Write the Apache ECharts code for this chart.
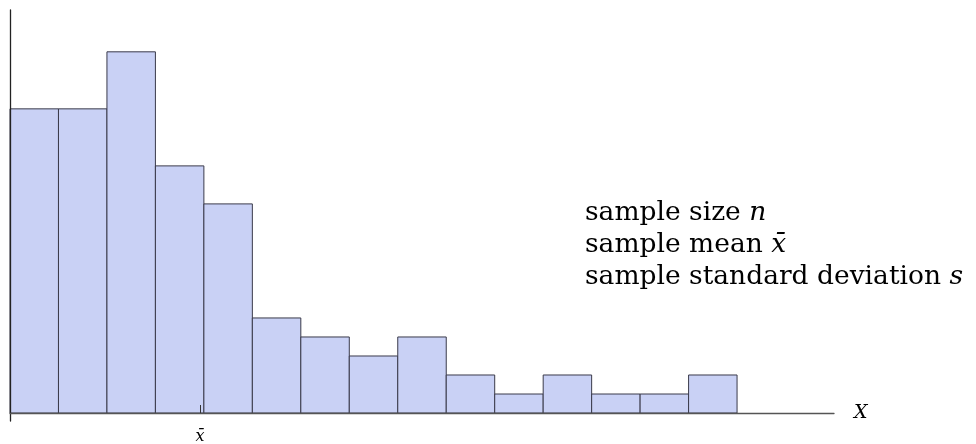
<!DOCTYPE html>
<html><head><meta charset="utf-8">
<script src="https://cdn.jsdelivr.net/npm/echarts@6/dist/echarts.min.js"></script>
<style>html,body{margin:0;padding:0;background:#fff}#c{width:976px;height:444px}</style>
</head><body><div id="c"></div>
<script>
// bin index (left edges) and counts
const binStarts = [0,1,2,3,4,5,6,7,8,9,10,11,12,13,14];
const counts = [16,16,19,13,11,5,4,3,4,2,1,2,1,1,2];
const meanX = 3.92;
const meanLabel = 'x\u0304';
const infoLines = [['sample size ', 'n'], ['sample mean ', 'x\u0304'], ['sample standard deviation ', 's']];

const chart = echarts.init(document.getElementById('c'), null, {renderer:'canvas'});
const data = binStarts.map((b,i)=>[b, b+1, counts[i]]);
chart.setOption({
  animation:false,
  grid:{left:10, right:142, top:10, bottom:23, containLabel:false, outerBoundsMode:'none'},
  xAxis:{type:'value', min:0, max:17, z:5,
    name:'X', nameLocation:'end', nameGap:20,
    nameTextStyle:{fontFamily:'DejaVu Serif', fontStyle:'italic', fontSize:19, color:'#000', verticalAlign:'middle', padding:[2,0,0,0]},
    axisLine:{onZero:true, lineStyle:{color:'#555', width:1.3}},
    axisTick:{show:true, inside:true, length:8, customValues:[meanX], lineStyle:{color:'#333', width:1}},
    axisLabel:{show:true, customValues:[meanX], formatter:()=>meanLabel, margin:8,
      fontFamily:'DejaVu Serif', fontStyle:'italic', fontSize:16, color:'#000'},
    splitLine:{show:false}},
  yAxis:{type:'value', min:-0.42, max:21.2, z:5,
    axisLine:{show:true, onZero:false, lineStyle:{color:'#222', width:1.3}},
    axisTick:{show:false}, axisLabel:{show:false}, splitLine:{show:false}},
  series:[{type:'custom', data:data, encode:{x:[0,1], y:2},
    renderItem:(params, api)=>{
      const p0 = api.coord([api.value(0), 0]);
      const p1 = api.coord([api.value(1), api.value(2)]);
      return {type:'rect', shape:{x:p0[0], y:p1[1], width:p1[0]-p0[0], height:p0[1]-p1[1]},
        style:{fill:'#c9d1f5', stroke:'#3a3a4a', lineWidth:1}};
    }, z:1}],
  graphic: infoLines.map((ln,i)=>({type:'text', left:585, top:200+i*32, z:10,
    style:{text:'{a|'+ln[0]+'}{b|'+ln[1]+'}', rich:{
      a:{fontFamily:'DejaVu Serif', fontSize:26.5, fill:'#000'},
      b:{fontFamily:'DejaVu Serif', fontStyle:'italic', fontSize:26.5, fill:'#000'}}}}))
});
</script></body></html>
